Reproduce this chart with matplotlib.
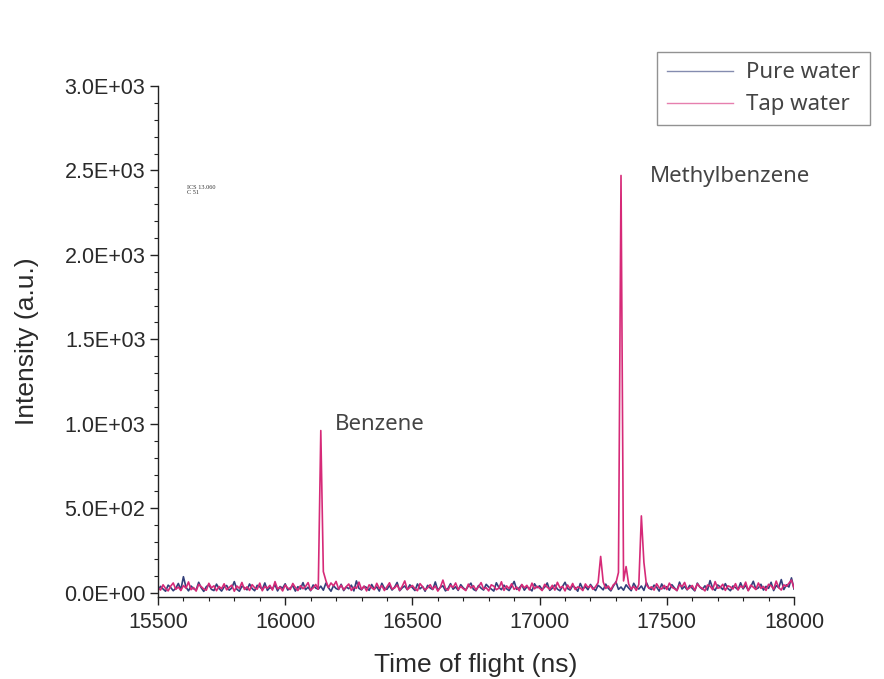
import numpy as np
import matplotlib
matplotlib.use("Agg")
import matplotlib.pyplot as plt
from matplotlib import rcParams
from matplotlib.ticker import MultipleLocator, FuncFormatter

rcParams['font.family'] = ['Liberation Sans', 'DejaVu Sans']

# time axis: 15500 .. 18000 ns, one sample every 10 ns
t_start, t_step = 15500, 10

pure_water = [
    14, 38, 22, 9, 45, 31, 12, 27, 55, 18, 95, 33, 11, 40, 24, 16, 62, 29, 8, 36, 47, 20, 13, 51, 26,
    10, 34, 43, 15, 28, 66, 21, 9, 39, 30, 17, 52, 25, 12, 44, 35, 19, 58, 14, 31, 23, 48, 11, 37, 27,
    53, 16, 29, 41, 10, 36, 22, 60, 18, 33, 12, 46, 28, 21, 39, 15, 57, 30, 9, 42, 25, 19, 50, 13, 34,
    24, 45, 11, 70, 26, 17, 38, 31, 14, 49, 22, 35, 10, 56, 27, 20, 43, 16, 33, 61, 12, 29, 40, 18, 47,
    30, 13, 52, 23, 37, 9, 44, 28, 19, 64, 15, 32, 41, 11, 26, 54, 21, 35, 14, 48, 29, 17, 39, 57, 20,
    12, 43, 27, 16, 50, 34, 22, 10, 59, 31, 18, 45, 24, 13, 38, 67, 20, 29, 47, 15, 35, 26, 11, 53, 30,
    41, 19, 33, 58, 14, 27, 46, 21, 12, 37, 62, 25, 16, 42, 30, 9, 55, 23, 36, 18, 49, 28, 13, 44, 32,
    17, 51, 26, 11, 39, 65, 20, 34, 15, 47, 28, 12, 56, 31, 22, 40, 14, 60, 27, 19, 45, 33, 10, 52, 24,
    36, 15, 48, 29, 13, 63, 22, 38, 17, 44, 26, 11, 57, 33, 20, 41, 16, 72, 28, 14, 46, 35, 19, 54, 25,
    12, 40, 31, 18, 59, 23, 45, 14, 36, 68, 21, 29, 50, 16, 38, 26, 62, 13, 43, 30, 78, 19, 47, 34, 88,
    22,
]

tap_water = [
    30, 16, 47, 25, 11, 39, 58, 20, 34, 13, 43, 27, 64, 18, 31, 10, 50, 36, 22, 15, 56, 29, 41, 12, 37,
    24, 53, 17, 32, 45, 9, 40, 26, 61, 19, 35, 14, 48, 30, 21, 57, 12, 38, 27, 44, 16, 66, 23, 33, 11,
    46, 28, 19, 55, 31, 13, 42, 24, 37, 60, 15, 29, 49, 21, 960, 125, 72, 30, 58, 41, 67, 22, 45, 18, 36,
    52, 14, 33, 26, 63, 20, 39, 11, 47, 30, 18, 56, 25, 42, 13, 35, 59, 22, 28, 46, 15, 38, 70, 19, 31,
    43, 24, 12, 54, 36, 17, 29, 48, 21, 40, 10, 33, 75, 26, 15, 45, 31, 58, 19, 37, 24, 13, 51, 28, 42,
    16, 35, 60, 22, 30, 11, 47, 39, 18, 27, 65, 14, 41, 25, 53, 20, 34, 12, 49, 29, 44, 17, 57, 23, 38,
    27, 13, 50, 33, 21, 44, 16, 62, 29, 38, 11, 46, 24, 55, 19, 35, 28, 13, 52, 31, 42, 20, 36, 60, 215,
    64, 25, 40, 18, 47, 58, 120, 2470, 70, 155, 52, 21, 38, 14, 49, 455, 180, 46, 27, 35, 16, 53, 30, 22, 44,
    19, 57, 32, 24, 13, 48, 36, 61, 20, 29, 43, 15, 53, 34, 26, 11, 46, 39, 18, 66, 27, 31, 50, 14, 41,
    35, 22, 54, 17, 40, 29, 63, 12, 45, 33, 19, 58, 26, 37, 14, 50, 42, 21, 69, 30, 16, 47, 38, 57, 75,
    28,
]

labels = ["Pure water", "Tap water"]
peak_names = ["Benzene", "Methylbenzene"]
peak_label_pos = [(16195, 995), (17435, 2465)]

t = t_start + t_step * np.arange(len(pure_water))

fig = plt.figure(figsize=(8.84, 6.79), dpi=100)
ax = fig.add_axes([0.1787, 0.1208, 0.7195, 0.7526])

l1, = ax.plot(t, pure_water, color="#33407a", lw=1.2, label=labels[0])
l2, = ax.plot(t, tap_water, color="#d62a78", lw=1.2, label=labels[1])

ax.set_xlim(15500, 18000)
ax.set_ylim(-25, 3000)
ax.xaxis.set_major_locator(MultipleLocator(500))
ax.xaxis.set_minor_locator(MultipleLocator(100))
ax.yaxis.set_major_locator(MultipleLocator(500))
ax.yaxis.set_minor_locator(MultipleLocator(100))
ax.yaxis.set_major_formatter(FuncFormatter(lambda v, pos: "%.1E" % v))

for side in ["top", "right"]:
    ax.spines[side].set_visible(False)
for side in ["left", "bottom"]:
    ax.spines[side].set_linewidth(1.0)
    ax.spines[side].set_color("#222222")

ax.tick_params(which="major", length=6, width=1, color="#222222", labelsize=15.5, labelcolor="#2a2a2a")
ax.tick_params(which="minor", length=3, width=0.8, color="#222222")
ax.tick_params(axis="x", which="major", pad=5)
ax.tick_params(axis="y", which="major", pad=3)

ax.set_xlabel("Time of flight (ns)", fontsize=19, color="#2a2a2a", labelpad=14)
ax.set_ylabel("Intensity (a.u.)", fontsize=19, color="#2a2a2a", labelpad=18)

for name, (px, py) in zip(peak_names, peak_label_pos):
    ax.text(px, py, name, ha="left", va="center", fontsize=16,
            family=["Noto Sans", "DejaVu Sans"], color="#444444")

leg = fig.legend(handles=[l1, l2], loc="upper right", bbox_to_anchor=(0.984, 0.923),
                 borderaxespad=0, frameon=True, fancybox=False, handlelength=3.0,
                 borderpad=0.45, labelspacing=0.5, handletextpad=0.55,
                 prop={"family": ["Noto Sans", "DejaVu Sans"], "size": 16})
leg.get_frame().set_edgecolor("#777777")
leg.get_frame().set_linewidth(1.0)
for txt in leg.get_texts():
    txt.set_color("#444444")
for line in leg.get_lines():
    line.set_linewidth(1.0)
    line.set_alpha(0.6)

# small stray label in the source scan
fig.text(0.2115, 0.720, "ICS 13.060\nC 51", fontsize=4.5, family=["Liberation Serif", "DejaVu Serif"],
         color="#333333", ha="left", va="center", linespacing=1.0)

fig.savefig("out.png", dpi=100)
